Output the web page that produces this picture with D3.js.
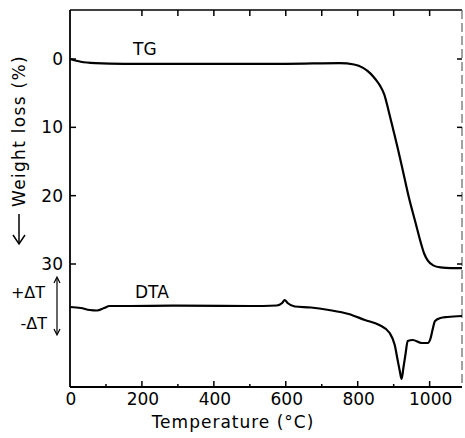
<!DOCTYPE html>
<html><head><meta charset="utf-8">
<script src="https://cdn.jsdelivr.net/npm/d3@7"></script>
<style>body{margin:0;background:#fff}svg{display:block}text{font-family:"DejaVu Sans",sans-serif;fill:#000}</style>
</head><body>
<svg id="c" width="465" height="438"></svg>
<script>
// ---- data ----
const xTicksMajor = [0, 200, 400, 600, 800, 1000];
const xTicksMinor = [100, 300, 500, 700, 900];
const yTicks = [0, 10, 20, 30];

const tgTemp = [0, 30, 70, 150, 400, 600, 750, 790, 815, 835, 850, 862, 874, 886, 900, 911, 922, 942, 961, 975, 985, 995, 1010, 1030, 1060, 1090];
const tgLoss = [0, 0.4, 0.6, 0.7, 0.7, 0.7, 0.6, 0.8, 1.3, 2.1, 3.0, 3.9, 5.2, 7.6, 10.6, 13.0, 15.5, 20.2, 24.0, 26.8, 28.5, 29.5, 30.2, 30.5, 30.6, 30.6];

const dtaTemp = [0, 30, 55, 75, 95, 110, 150, 300, 500, 575, 590, 597, 605, 625, 670, 720, 775, 820, 860, 889, 903, 911, 917, 922, 927, 933, 939, 953, 978, 995, 1002, 1008, 1015, 1030, 1050, 1090];
const dtaVal  = [-1, -2, -4, -4.5, -2, 0, 0, 0.3, 0, 0.5, 3, 6, 3, -0.5, -1.5, -4, -8, -14, -19, -27, -39, -54, -65, -73, -62, -48, -35, -34, -37, -37, -33, -24, -15, -12, -11, -10];

// ---- scales ----
const x = d3.scaleLinear().domain([0, 1090]).range([70, 462]);
const yTG = d3.scaleLinear().domain([0, 30]).range([59, 264]);
const yDTA = d3.scaleLinear().domain([0, -80]).range([306, 386]);

const svg = d3.select("#c");
const L = 70, R = 462, T = 10, B = 387;

// frame
svg.append("line").attr("x1", L).attr("x2", L).attr("y1", T).attr("y2", B).attr("stroke", "#000").attr("stroke-width", 1.8);
svg.append("line").attr("x1", L).attr("x2", R).attr("y1", B).attr("y2", B).attr("stroke", "#000").attr("stroke-width", 1.8);
svg.append("line").attr("x1", L).attr("x2", R).attr("y1", T).attr("y2", T).attr("stroke", "#000").attr("stroke-width", 1.6);
svg.append("line").attr("x1", R).attr("x2", R).attr("y1", T).attr("y2", B).attr("stroke", "#444").attr("stroke-width", 1).attr("stroke-dasharray", "9,4");

// bottom axis ticks (inside)
svg.selectAll(".bt").data(xTicksMajor.filter(d => d > 0)).enter().append("line")
  .attr("x1", d => x(d)).attr("x2", d => x(d)).attr("y1", B).attr("y2", B - 6).attr("stroke", "#000").attr("stroke-width", 1.5);
svg.selectAll(".bm").data(xTicksMinor).enter().append("line")
  .attr("x1", d => x(d)).attr("x2", d => x(d)).attr("y1", B).attr("y2", B - 3).attr("stroke", "#000").attr("stroke-width", 1.5);
// top ticks
svg.selectAll(".tt").data(xTicksMajor.filter(d => d > 0).concat(xTicksMinor.filter(d => d > 100))).enter().append("line")
  .attr("x1", d => x(d)).attr("x2", d => x(d)).attr("y1", T).attr("y2", T + 6).attr("stroke", "#000").attr("stroke-width", 1.5);
// x labels
svg.selectAll(".xl").data(xTicksMajor).enter().append("text")
  .attr("x", d => x(d) + 1).attr("y", 405).attr("text-anchor", "middle").attr("font-size", 17).text(d => d);
svg.append("text").attr("x", 233).attr("y", 428).attr("text-anchor", "middle").attr("font-size", 17)
  .attr("letter-spacing", 1).text("Temperature (°C)");

// y ticks left & right
svg.selectAll(".yl").data(yTicks).enter().append("line")
  .attr("x1", L).attr("x2", L + 6).attr("y1", d => yTG(d)).attr("y2", d => yTG(d)).attr("stroke", "#000").attr("stroke-width", 1.5);
svg.selectAll(".yr").data(yTicks).enter().append("line")
  .attr("x1", R).attr("x2", R - 5).attr("y1", d => yTG(d)).attr("y2", d => yTG(d)).attr("stroke", "#000").attr("stroke-width", 1.5);
svg.selectAll(".ylab").data(yTicks).enter().append("text")
  .attr("x", 63).attr("y", d => yTG(d) + 6).attr("text-anchor", "end").attr("font-size", 17).text(d => d);

// y title
svg.append("text").attr("transform", "translate(25,131) rotate(-90)").attr("text-anchor", "middle")
  .attr("font-size", 17).attr("letter-spacing", 1.3).text("Weight loss (%)");
svg.append("line").attr("x1", 19).attr("x2", 19).attr("y1", 214).attr("y2", 243).attr("stroke", "#000").attr("stroke-width", 1.5);
svg.append("path").attr("d", "M13,235 L19,244 L25,235").attr("fill", "none").attr("stroke", "#000").attr("stroke-width", 1.5);

// ΔT labels
svg.append("text").attr("x", 45).attr("y", 298).attr("text-anchor", "end").attr("font-size", 16).text("+ΔT");
svg.append("text").attr("x", 47).attr("y", 329).attr("text-anchor", "end").attr("font-size", 16).text("-ΔT");
svg.append("line").attr("x1", 57).attr("x2", 57).attr("y1", 278).attr("y2", 334).attr("stroke", "#000").attr("stroke-width", 1.2);
svg.append("path").attr("d", "M54,283 L57,277 L60,283").attr("fill", "none").attr("stroke", "#000").attr("stroke-width", 1.2);
svg.append("path").attr("d", "M54,329 L57,335 L60,329").attr("fill", "none").attr("stroke", "#000").attr("stroke-width", 1.2);

// curves
const tgLine = d3.line().x(d => x(d[0])).y(d => yTG(d[1])).curve(d3.curveMonotoneX);
svg.append("path").attr("d", tgLine(d3.zip(tgTemp, tgLoss))).attr("fill", "none").attr("stroke", "#000").attr("stroke-width", 2.2);
const dtaLine = d3.line().x(d => x(d[0])).y(d => yDTA(d[1])).curve(d3.curveMonotoneX);
svg.append("path").attr("d", dtaLine(d3.zip(dtaTemp, dtaVal))).attr("fill", "none").attr("stroke", "#000").attr("stroke-width", 2.2);

// series labels
svg.append("text").attr("x", 133).attr("y", 55).attr("font-size", 17).text("TG");
svg.append("text").attr("x", 135).attr("y", 298).attr("font-size", 17).text("DTA");
</script>
</body></html>
